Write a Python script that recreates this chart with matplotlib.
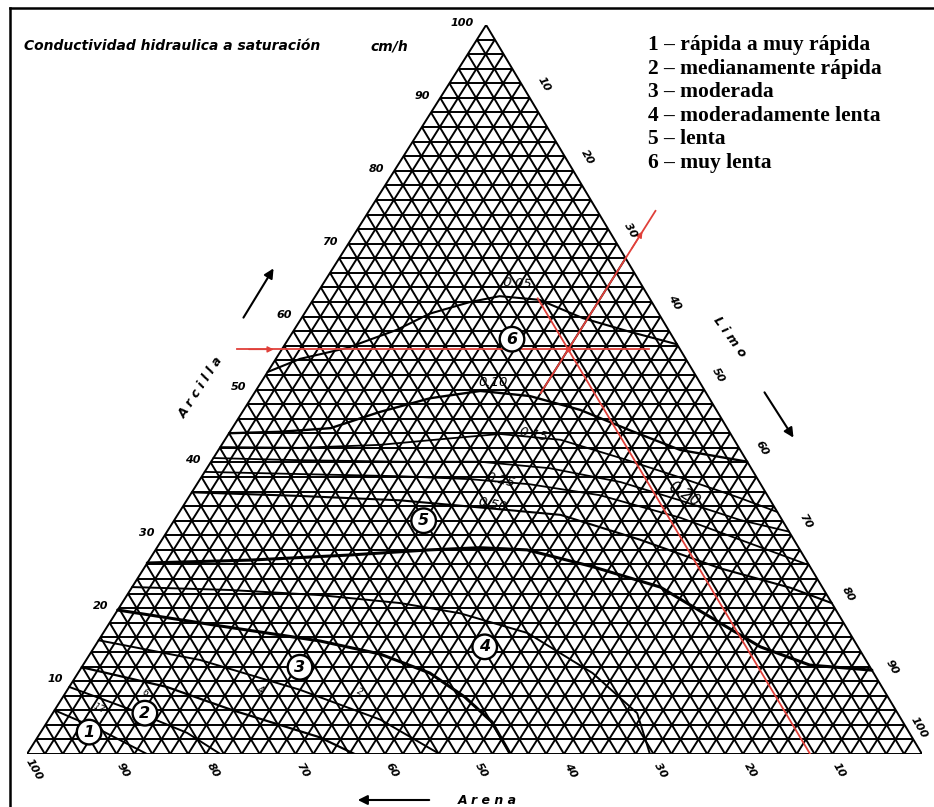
import numpy as np
import matplotlib.pyplot as plt
from matplotlib.collections import LineCollection

# the printed triangle's apex sits a bit right of the base centre
SKEW = 0.513

# tick values on the three sides
clay_ticks = [10, 20, 30, 40, 50, 60, 70, 80, 90, 100]
silt_ticks = [10, 20, 30, 40, 50, 60, 70, 80, 90, 100]
sand_ticks = [10, 20, 30, 40, 50, 60, 70, 80, 90, 100]

# iso-conductivity curves, as (silt %, clay %)
k005_silt = [0, 2.7, 7.2, 11.5, 14.0, 17.7, 20.6, 25.3, 31.4, 37.7, 43.8]
k005_clay = [52.4, 54.2, 55.7, 58.2, 60.4, 62.0, 62.8, 62.3, 59.8, 57.9, 56.2]

k010_silt = [0, 5.6, 11.0, 15.3, 20.0, 25.1, 31.0, 37.6, 44.6, 51.6, 59.9]
k010_clay = [44.0, 44.2, 44.7, 46.9, 48.8, 49.8, 49.1, 47.2, 44.4, 41.7, 40.1]

k015_silt = [0, 9.0, 17.6, 25.1, 30.3, 37.5, 45.5, 53.6, 61.7, 66.8]
k015_clay = [42.1, 42.0, 42.4, 43.3, 43.9, 43.1, 40.6, 37.9, 35.1, 33.2]

k020_silt = [0, 9.8, 21.1, 30.0, 38.3, 47.2, 55.1, 63.2, 69.5]
k020_clay = [40.6, 40.3, 40.1, 40.1, 39.2, 37.3, 34.8, 32.1, 30.5]

k025_silt = [0, 10.8, 22.2, 30.2, 37.2, 45.8, 56.4, 67.3, 74.1]
k025_clay = [38.7, 38.4, 38.1, 37.7, 37.0, 35.5, 32.4, 28.4, 25.9]

k050_silt = [0, 12.3, 23.8, 34.4, 42.8, 53.4, 64.3, 73.6, 79.3]
k050_clay = [35.9, 35.4, 34.8, 33.7, 32.8, 29.4, 25.5, 22.8, 20.7]

# class 5 / class 4 boundary (thick)
b54_silt = [0, 11.3, 22.1, 30.6, 36.1, 41.5, 50.0, 59.0, 69.3, 74.4, 81.2, 88.5]
b54_clay = [26.2, 26.6, 27.3, 28.0, 28.3, 28.0, 25.7, 22.9, 17.4, 14.7, 12.2, 11.5]

c23_silt = [0, 11.1, 21.5, 31.1, 38.5, 47.4, 57.5, 65.3, 69.6]
c23_clay = [22.9, 22.5, 21.8, 20.7, 19.3, 16.6, 11.1, 5.6, 0]

# class 4 / class 3 boundary (thick)
b43_silt = [0, 12.6, 24.8, 32.4, 39.3, 44.9, 49.7, 54.0]
b43_clay = [19.75, 17.56, 15.5, 13.72, 11.11, 7.82, 4.39, 0]

c16_silt = [0, 12.7, 26.0, 37.1, 46.1]
c16_clay = [15.6, 12.9, 8.8, 4.7, 0]

c12_silt = [0, 10.9, 19.9, 31.5, 36.6]
c12_clay = [11.9, 9.2, 6.0, 2.3, 0]

c09_silt = [0, 8.7, 16.4, 21.6]
c09_clay = [9.2, 6.0, 2.9, 0]

c06_silt = [0, 6.5, 13.4]
c06_clay = [6.0, 3.3, 0]

# curve value labels: text, silt, clay, rotation
curve_labels = ["0.05", "0.10", "0.15", "0.25", "0.50", "0.20"]
curve_label_silt = [21.6, 26.0, 34.1, 33.6, 34.5, 55.1]
curve_label_clay = [64.6, 50.9, 43.8, 37.6, 34.2, 35.6]
curve_label_rot = [-4, 0, -12, -14, -12, -32]

# small values near the sandy corner
small_labels = ["12", "6", "4", "2"]
small_silt = [4.8, 8.9, 21.6, 32.8]
small_clay = [6.3, 8.4, 8.8, 8.5]

# class numbers in circles
region_ids = ["1", "2", "3", "4", "5", "6"]
region_silt = [5.4, 10.3, 24.4, 43.6, 27.9, 25.0]
region_clay = [3.0, 5.6, 11.9, 14.7, 32.0, 56.9]

legend_lines = ["1 \u2013 r\u00e1pida a muy r\u00e1pida",
                "2 \u2013 medianamente r\u00e1pida",
                "3 \u2013 moderada",
                "4 \u2013 moderadamente lenta",
                "5 \u2013 lenta",
                "6 \u2013 muy lenta"]

# example soil read in red
sample_silt, sample_clay = 32.0, 55.5
sample_sand = 100 - sample_silt - sample_clay
red_h_silt = [-5, 41]          # span of the constant clay line
red_sand_clay = [62.5, -5.5]   # span of the constant sand line
red_silt_clay = [49.5, 74.5]   # span of the constant silt line

RED = '#e0403a'
W, H = 934, 807


def pt(silt, clay):
    silt = np.asarray(silt, float)
    clay = np.asarray(clay, float)
    return silt + SKEW * clay, clay


def ptt(silt, clay):
    x, y = pt(silt, clay)
    return float(x), float(y)


fig = plt.figure(figsize=(W / 100, H / 100), dpi=100)

# page layer in pixel units (frame, title, legend, axis names)
deco = fig.add_axes([0, 0, 1, 1])
deco.set_xlim(0, W)
deco.set_ylim(H, 0)
deco.axis('off')

# ternary layer: x = silt + SKEW*clay, y = clay
ax = fig.add_axes([27 / W, (H - 754) / H, 895 / W, 729 / H])
ax.set_xlim(0, 100)
ax.set_ylim(0, 100)
ax.axis('off')
ax.patch.set_alpha(0)

# 2 % grid in the three directions
segs = []
for v in range(0, 101, 2):
    segs.append(np.column_stack(pt([0, 100 - v], [v, v])))
    segs.append(np.column_stack(pt([v, v], [0, 100 - v])))
    segs.append(np.column_stack(pt([100 - v, 0], [0, 100 - v])))
ax.add_collection(LineCollection(segs, colors='black', linewidths=1.4))

curves = [(k005_silt, k005_clay, 1.5), (k010_silt, k010_clay, 1.7),
          (k015_silt, k015_clay, 1.3), (k020_silt, k020_clay, 1.3),
          (k025_silt, k025_clay, 1.3), (k050_silt, k050_clay, 1.5),
          (b54_silt, b54_clay, 2.2), (c23_silt, c23_clay, 1.4),
          (b43_silt, b43_clay, 2.2), (c16_silt, c16_clay, 1.4),
          (c12_silt, c12_clay, 1.6), (c09_silt, c09_clay, 1.4),
          (c06_silt, c06_clay, 1.4)]
for s, c, lw in curves:
    ax.plot(*pt(s, c), color='black', lw=lw, solid_joinstyle='round',
            solid_capstyle='round', zorder=3)

for t, s, c, r in zip(curve_labels, curve_label_silt, curve_label_clay, curve_label_rot):
    ax.text(*ptt(s, c), t, rotation=r, ha='center', va='center',
            fontsize=11 if t == "0.20" else 9.5, style='italic', zorder=5)
for t, s, c in zip(small_labels, small_silt, small_clay):
    ax.text(*ptt(s, c), t, rotation=-25, ha='center', va='center', fontsize=6.5,
            style='italic', zorder=5)

for t, s, c in zip(region_ids, region_silt, region_clay):
    ax.text(*ptt(s, c), t, ha='center', va='center', fontsize=11.5, fontweight='bold',
            style='italic', zorder=6,
            bbox=dict(boxstyle='circle,pad=0.3', fc='white', ec='black', lw=1.7))

# red construction lines
ax.plot(*pt(red_h_silt, [sample_clay, sample_clay]), color=RED, lw=1.3, zorder=4)
ax.plot(*pt([100 - sample_sand - c for c in red_sand_clay], red_sand_clay),
        color=RED, lw=1.3, zorder=4)
ax.plot(*pt([sample_silt, sample_silt], red_silt_clay), color=RED, lw=1.3, zorder=4)
ax.plot(*pt(sample_silt, sample_clay), 'o', color=RED, ms=3, zorder=5)
arr = dict(arrowstyle='-|>', color=RED, lw=1.0, mutation_scale=9)
ax.annotate('', xy=ptt(-0.6, sample_clay), xytext=ptt(-4, sample_clay),
            arrowprops=arr, zorder=5)
ax.annotate('', xy=ptt(100 - sample_sand + 1.2, -1.2),
            xytext=ptt(100 - sample_sand - 1.5, 1.5), arrowprops=arr)
ax.annotate('', xy=ptt(sample_silt, 72.0), xytext=ptt(sample_silt, 69.0), arrowprops=arr)

# tick labels
tickfont = dict(fontsize=8, fontweight='bold', style='italic', ha='center', va='center')
for c in clay_ticks:
    dx = -17 if c == 100 else -13
    ax.annotate(str(c), xy=ptt(0, c), xytext=(dx, 1.5),
                textcoords='offset points', annotation_clip=False, **tickfont)
for l in silt_ticks:
    off = (-2, 19) if l == 100 else (10, 10)
    ax.annotate(str(l), xy=ptt(l, 100 - l), xytext=off,
                textcoords='offset points', rotation=-60, annotation_clip=False, **tickfont)
for s in sand_ticks:
    ax.annotate(str(s), xy=ptt(100 - s, 0), xytext=(5, -11.5),
                textcoords='offset points', rotation=-60, annotation_clip=False, **tickfont)

# page decorations
deco.plot([10, 10], [H, 8], color='black', lw=1.8)
deco.plot([10, W], [8, 8], color='black', lw=1.8)

deco.text(24, 46, "Conductividad hidraulica a saturaci\u00f3n", fontsize=10,
          fontweight='bold', style='italic', va='center')
deco.text(370, 46, "cm/h", fontsize=10, fontweight='bold', style='italic', va='center')

for i, line in enumerate(legend_lines):
    deco.text(648, 45 + i * 23.6, line, family='Liberation Serif', fontsize=15.5,
              fontweight='bold', va='center')

axis_font = dict(fontsize=9, fontweight='bold', style='italic', ha='center', va='center')
deco.text(201, 388, "A r c i l l a", rotation=57, **axis_font)
deco.text(730, 337, "L i m o", rotation=-54, **axis_font)
deco.text(487, 800, "A r e n a", **axis_font)

blk = dict(arrowstyle='-|>', color='black', lw=1.5, mutation_scale=14)
deco.annotate('', xy=(275, 266), xytext=(242, 320), arrowprops=blk)
deco.annotate('', xy=(795, 440), xytext=(763, 390), arrowprops=blk)
deco.annotate('', xy=(355, 800), xytext=(432, 800), arrowprops=blk)

fig.savefig('out.png', dpi=100)
